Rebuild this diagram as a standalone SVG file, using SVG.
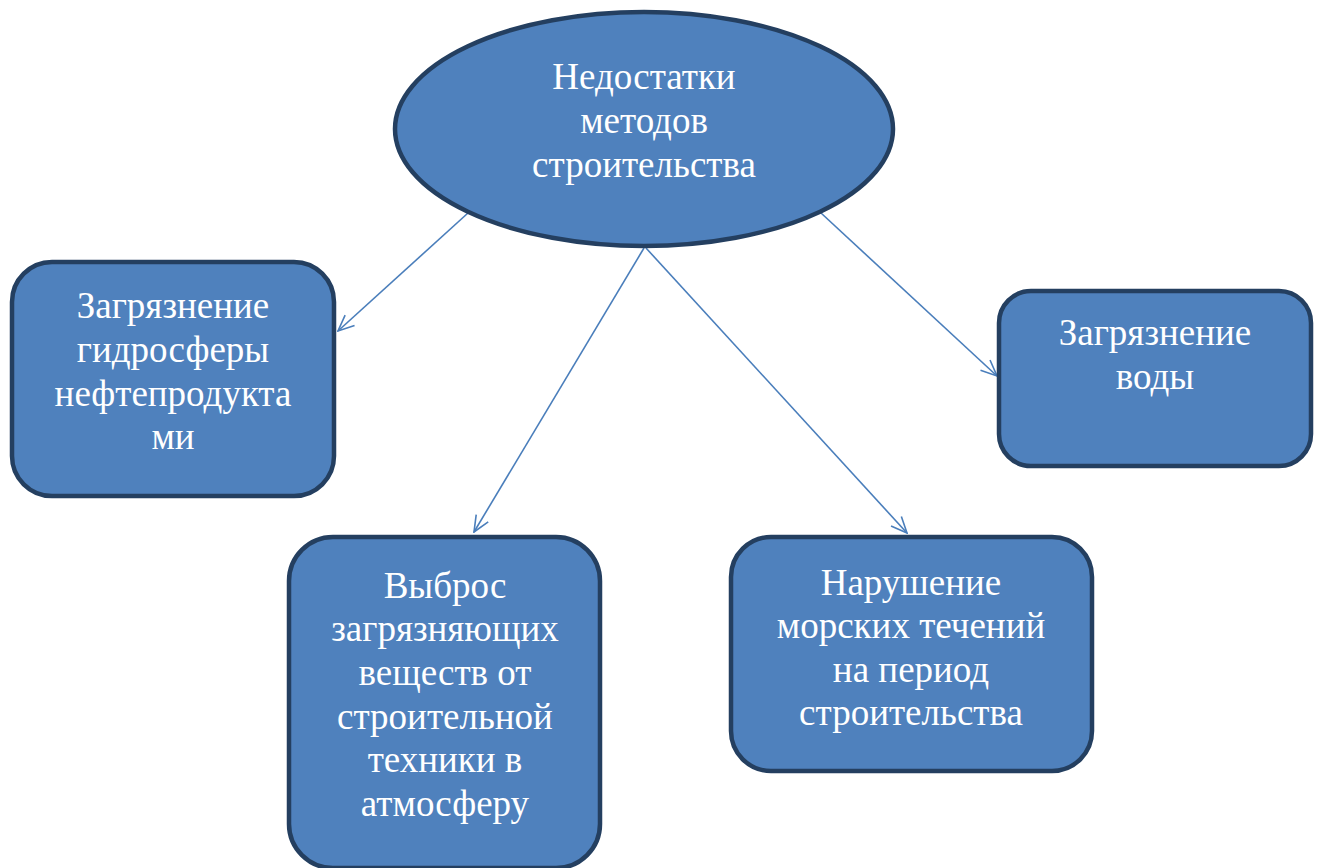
<svg xmlns="http://www.w3.org/2000/svg" width="1320" height="868" viewBox="0 0 1320 868">
<defs>
<style>
.n{fill:#4F81BD;stroke:#243F60;stroke-width:4.5}
.t{fill:#ffffff;font-family:"Liberation Serif","Times New Roman",serif;font-size:37px;text-anchor:middle}
.c{stroke:#4A7EBB;stroke-width:1.6;fill:none}
</style>
<marker id="a" viewBox="0 0 20 20" refX="19" refY="10" markerWidth="20" markerHeight="20" markerUnits="userSpaceOnUse" orient="auto">
<path d="M3,3 L19,10 L3,17" fill="none" stroke="#4A7EBB" stroke-width="1.6"/>
</marker>
</defs>
<rect width="1320" height="868" fill="#ffffff"/>
<g id="connectors">
<line class="c" x1="468" y1="213" x2="338" y2="331" marker-end="url(#a)"/>
<line class="c" x1="644" y1="248" x2="474" y2="532" marker-end="url(#a)"/>
<line class="c" x1="646" y1="248" x2="907" y2="533" marker-end="url(#a)"/>
<line class="c" x1="821" y1="213" x2="997" y2="376" marker-end="url(#a)"/>
</g>
<g id="root">
<ellipse class="n" cx="644" cy="129" rx="249" ry="117"/>
<text class="t"><tspan x="644" y="89">Недостатки</tspan><tspan x="644" y="133">методов</tspan><tspan x="644" y="177">строительства</tspan></text>
</g>
<g id="n1">
<rect class="n" x="12" y="262" width="322" height="234" rx="40"/>
<text class="t"><tspan x="173" y="318">Загрязнение</tspan><tspan x="173" y="362">гидросферы</tspan><tspan x="173" y="406">нефтепродукта</tspan><tspan x="173" y="449">ми</tspan></text>
</g>
<g id="n2">
<rect class="n" x="999" y="291" width="312" height="175" rx="32"/>
<text class="t"><tspan x="1155" y="345">Загрязнение</tspan><tspan x="1155" y="389">воды</tspan></text>
</g>
<g id="n3">
<rect class="n" x="289" y="537" width="311" height="331" rx="44"/>
<text class="t"><tspan x="445" y="598">Выброс</tspan><tspan x="445" y="641">загрязняющих</tspan><tspan x="445" y="685">веществ от</tspan><tspan x="445" y="729">строительной</tspan><tspan x="445" y="772">техники в</tspan><tspan x="445" y="816">атмосферу</tspan></text>
</g>
<g id="n4">
<rect class="n" x="731" y="537" width="361" height="234" rx="40"/>
<text class="t"><tspan x="911" y="595">Нарушение</tspan><tspan x="911" y="638">морских течений</tspan><tspan x="911" y="682">на период</tspan><tspan x="911" y="725">строительства</tspan></text>
</g>
</svg>
